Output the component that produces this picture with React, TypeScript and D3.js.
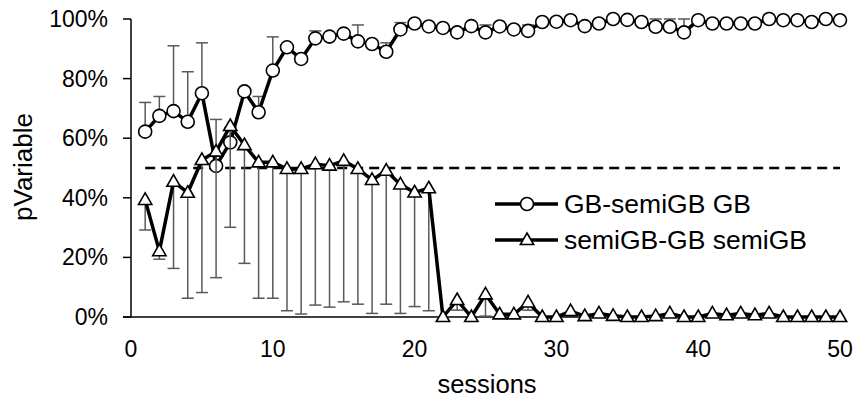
import React from "react";
import * as d3 from "d3";

// sessions 1..50
const sessions = [
  1, 2, 3, 4, 5, 6, 7, 8, 9, 10, 11, 12, 13, 14, 15, 16, 17, 18, 19, 20,
  21, 22, 23, 24, 25, 26, 27, 28, 29, 30, 31, 32, 33, 34, 35, 36, 37, 38, 39, 40,
  41, 42, 43, 44, 45, 46, 47, 48, 49, 50,
];

// GB-semiGB GB (circles), percent
const gbValues = [
  62.2, 67.5, 69.1, 65.5, 75.1, 50.7, 58.6, 75.7, 68.7, 82.7,
  90.5, 86.6, 93.5, 94.1, 95.1, 92.5, 91.6, 89.0, 96.5, 98.5,
  97.5, 97.0, 95.5, 97.6, 95.5, 97.5, 96.5, 96.0, 99.0, 99.1,
  99.6, 97.6, 98.5, 100, 99.7, 99.0, 97.4, 97.4, 95.5, 99.6,
  98.5, 98.5, 98.5, 98.5, 100, 99.6, 99.6, 99.0, 100, 99.6,
];
// upper error bars
const gbErrors = [
  9.8, 6.5, 21.9, 16.8, 16.9, 15.6, 5, 1, 5.3, 11.3,
  1, 1, 2.5, 1, 1, 5.5, 1, 3, 2.3, 0.5,
  0.5, 0.5, 0.5, 0.5, 2.5, 0.5, 0.5, 2, 0.5, 0.5,
  0.5, 0.5, 0.5, 0, 0.3, 0.5, 2.6, 2.6, 4.5, 0.4,
  0.5, 0.5, 0.5, 0.5, 0, 0.4, 0.4, 0.5, 0, 0.4,
];

// semiGB-GB semiGB (triangles), percent
const semiValues = [
  39.3, 22.1, 45.4, 41.7, 52.7, 55.5, 64.1, 57.7, 51.9, 51.9,
  49.7, 49.7, 51.3, 50.8, 52.4, 49.7, 46.0, 49.1, 44.5, 41.8,
  43.2, 0, 5.7, 0, 7.6, 0.9, 0.9, 4.9, 0, 0,
  2.0, 0.3, 1.2, 0.4, 0, 0, 0.3, 1.2, 0, 0,
  1.2, 0.6, 1.2, 0.6, 1.2, 0, 0, 0, 0, 0,
];
// lower error bars
const semiErrors = [
  10.1, 2.7, 29.1, 35.4, 44.5, 42.3, 34, 39.7, 45.6, 45.6,
  47.6, 48.7, 47.3, 47.5, 47.3, 45.4, 44.8, 44.8, 43.3, 38.3,
  41.1, 0, 3.4, 0, 7.3, 0.9, 0.9, 2.6, 0, 0,
  1.5, 0.3, 1.2, 0.4, 0, 0, 0.3, 1.2, 0, 0,
  1.2, 0.6, 1.2, 0.6, 1.2, 0, 0, 0, 0, 0,
];

const xTicks = [0, 10, 20, 30, 40, 50];
const yTicks = [0, 20, 40, 60, 80, 100];
const threshold = 50;
const seriesNames = ["GB-semiGB GB", "semiGB-GB semiGB"];

const FONT = "'Liberation Sans', Arial, sans-serif";

export default function App() {
  const W = 857,
    H = 405;
  const x = d3.scaleLinear().domain([0, 50]).range([131, 840]);
  const y = d3.scaleLinear().domain([0, 100]).range([317, 19]);

  const lineGen = d3
    .line<number>()
    .x((_, i) => x(sessions[i]))
    .y((d) => y(d));

  const tri = (cx: number, cy: number, s = 7) =>
    `M${cx},${cy - s} L${cx + s * 0.95},${cy + s * 0.65} L${cx - s * 0.95},${cy + s * 0.65} Z`;

  const errColor = "#595959";
  const cap = 6;

  return (
    <svg
      width={W}
      height={H}
      style={{ position: "absolute", left: 0, top: 0, background: "#fff" }}
      fontFamily={FONT}
    >
      {/* axes */}
      <line x1={131} x2={131} y1={y(100)} y2={y(0)} stroke="#000" strokeWidth={1.5} />
      <line x1={123} x2={x(50) + 2} y1={y(0)} y2={y(0)} stroke="#000" strokeWidth={1.5} />
      {yTicks.map((t) => (
        <g key={t}>
          <line x1={123} x2={131} y1={y(t)} y2={y(t)} stroke="#000" strokeWidth={1.5} />
          <text x={108} y={y(t)} dy="0.35em" textAnchor="end" fontSize={23} fill="#000">
            {t}%
          </text>
        </g>
      ))}
      {xTicks.map((t) => (
        <text key={t} x={x(t)} y={357} textAnchor="middle" fontSize={23} fill="#000">
          {t}
        </text>
      ))}
      <text x={487} y={393} textAnchor="middle" fontSize={25.5} fill="#000">
        sessions
      </text>
      <text
        transform={`translate(32,${167}) rotate(-90)`}
        textAnchor="middle"
        fontSize={26}
        fill="#000"
      >
        pVariable
      </text>

      {/* threshold */}
      <line
        x1={x(1)}
        x2={x(50)}
        y1={y(threshold)}
        y2={y(threshold)}
        stroke="#000"
        strokeWidth={2.5}
        strokeDasharray="10,6"
      />

      {/* series 1: circles */}
      {gbValues.map((v, i) =>
        gbErrors[i] > 0 ? (
          <g key={"ge" + i} stroke={errColor} strokeWidth={1.5}>
            <line x1={x(sessions[i])} x2={x(sessions[i])} y1={y(v)} y2={y(v + gbErrors[i])} />
            <line
              x1={x(sessions[i]) - cap}
              x2={x(sessions[i]) + cap}
              y1={y(v + gbErrors[i])}
              y2={y(v + gbErrors[i])}
            />
          </g>
        ) : null
      )}
      <path d={lineGen(gbValues) || ""} fill="none" stroke="#000" strokeWidth={3.5} strokeLinejoin="round" />
      {gbValues.map((v, i) => (
        <circle key={"gc" + i} cx={x(sessions[i])} cy={y(v)} r={6.5} fill="#fff" stroke="#000" strokeWidth={1.6} />
      ))}

      {/* series 2: triangles */}
      {semiValues.map((v, i) =>
        semiErrors[i] > 0 ? (
          <g key={"se" + i} stroke={errColor} strokeWidth={1.5}>
            <line x1={x(sessions[i])} x2={x(sessions[i])} y1={y(v)} y2={y(v - semiErrors[i])} />
            <line
              x1={x(sessions[i]) - cap}
              x2={x(sessions[i]) + cap}
              y1={y(v - semiErrors[i])}
              y2={y(v - semiErrors[i])}
            />
          </g>
        ) : null
      )}
      <path d={lineGen(semiValues) || ""} fill="none" stroke="#000" strokeWidth={3.5} strokeLinejoin="round" />
      {semiValues.map((v, i) => (
        <path key={"st" + i} d={tri(x(sessions[i]), y(v))} fill="#fff" stroke="#000" strokeWidth={1.6} strokeLinejoin="miter" />
      ))}

      {/* legend */}
      {seriesNames.map((name, i) => {
        const ly = i === 0 ? 204 : 240;
        return (
          <g key={name}>
            <line x1={495} x2={558} y1={ly} y2={ly} stroke="#000" strokeWidth={3.5} />
            {i === 0 ? (
              <circle cx={527} cy={ly} r={6.5} fill="#fff" stroke="#000" strokeWidth={1.6} />
            ) : (
              <path d={tri(527, ly)} fill="#fff" stroke="#000" strokeWidth={1.6} />
            )}
            <text x={564} y={ly} dy="0.35em" fontSize={26.5} fill="#000">
              {name}
            </text>
          </g>
        );
      })}
    </svg>
  );
}
